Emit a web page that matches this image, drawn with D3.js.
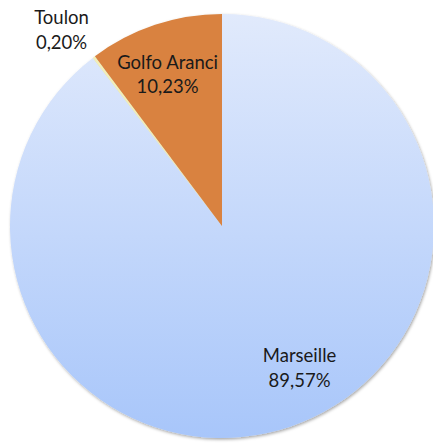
<!DOCTYPE html>
<html>
<head>
<meta charset="utf-8">
<script src="https://cdn.jsdelivr.net/npm/d3@7"></script>
<style>
  body { margin: 0; background: #fff; }
  text { font-family: "Lato", "Open Sans", sans-serif; }
</style>
</head>
<body>
<script>
// ports, in the order Excel draws them (clockwise from 12 o'clock)
var ports = ["Marseille", "Toulon", "Golfo Aranci"];
var shares = [89.57, 0.20, 10.23];
var shareLabels = ["89,57%", "0,20%", "10,23%"];

var width = 433, height = 443;
var cx = 222, cy = 226, radius = 212;

// label placement: [radius, angle in degrees clockwise from top]
var labelSpots = [[160, 151], [255, 321], [163, 340.5]];

var svg = d3.select("body").append("svg")
    .attr("width", width)
    .attr("height", height);

var defs = svg.append("defs");
var grad = defs.append("linearGradient")
    .attr("id", "blueFill")
    .attr("gradientUnits", "userSpaceOnUse")
    .attr("x1", 0).attr("y1", -radius)
    .attr("x2", 0).attr("y2", radius);
grad.append("stop").attr("offset", "0%").attr("stop-color", "#e1eafc");
grad.append("stop").attr("offset", "100%").attr("stop-color", "#a8c6fa");

var shadow = defs.append("filter").attr("id", "shadow")
    .attr("x", "-10%").attr("y", "-10%").attr("width", "120%").attr("height", "120%");
shadow.append("feDropShadow")
    .attr("dx", 1).attr("dy", 1.5).attr("stdDeviation", 1.5)
    .attr("flood-color", "#000").attr("flood-opacity", 0.35);

var fills = ["url(#blueFill)", "#f2eeb8", "#d9823f"];

var pie = d3.pie().sort(null).value(function (d) { return d; });
var arcs = pie(shares);
var arc = d3.arc().innerRadius(0).outerRadius(radius);

var g = svg.append("g").attr("transform", "translate(" + cx + "," + cy + ")");

g.append("g").attr("filter", "url(#shadow)")
    .selectAll("path")
    .data(arcs)
    .enter()
    .append("path")
    .attr("d", arc)
    .attr("fill", function (d, i) { return fills[i]; });

var labels = g.selectAll("text.lbl")
    .data(arcs)
    .enter()
    .append("text")
    .attr("class", "lbl")
    .attr("text-anchor", "middle")
    .attr("font-size", 18.5)
    .attr("fill", "#1a1a1a")
    .attr("transform", function (d, i) {
        var r = labelSpots[i][0], a = labelSpots[i][1] * Math.PI / 180;
        return "translate(" + (r * Math.sin(a)) + "," + (-r * Math.cos(a)) + ")";
    });
labels.append("tspan")
    .attr("x", 0).attr("dy", "-0.2em")
    .text(function (d, i) { return ports[i]; });
labels.append("tspan")
    .attr("x", 0).attr("dy", "1.32em")
    .text(function (d, i) { return shareLabels[i]; });
</script>
</body>
</html>
